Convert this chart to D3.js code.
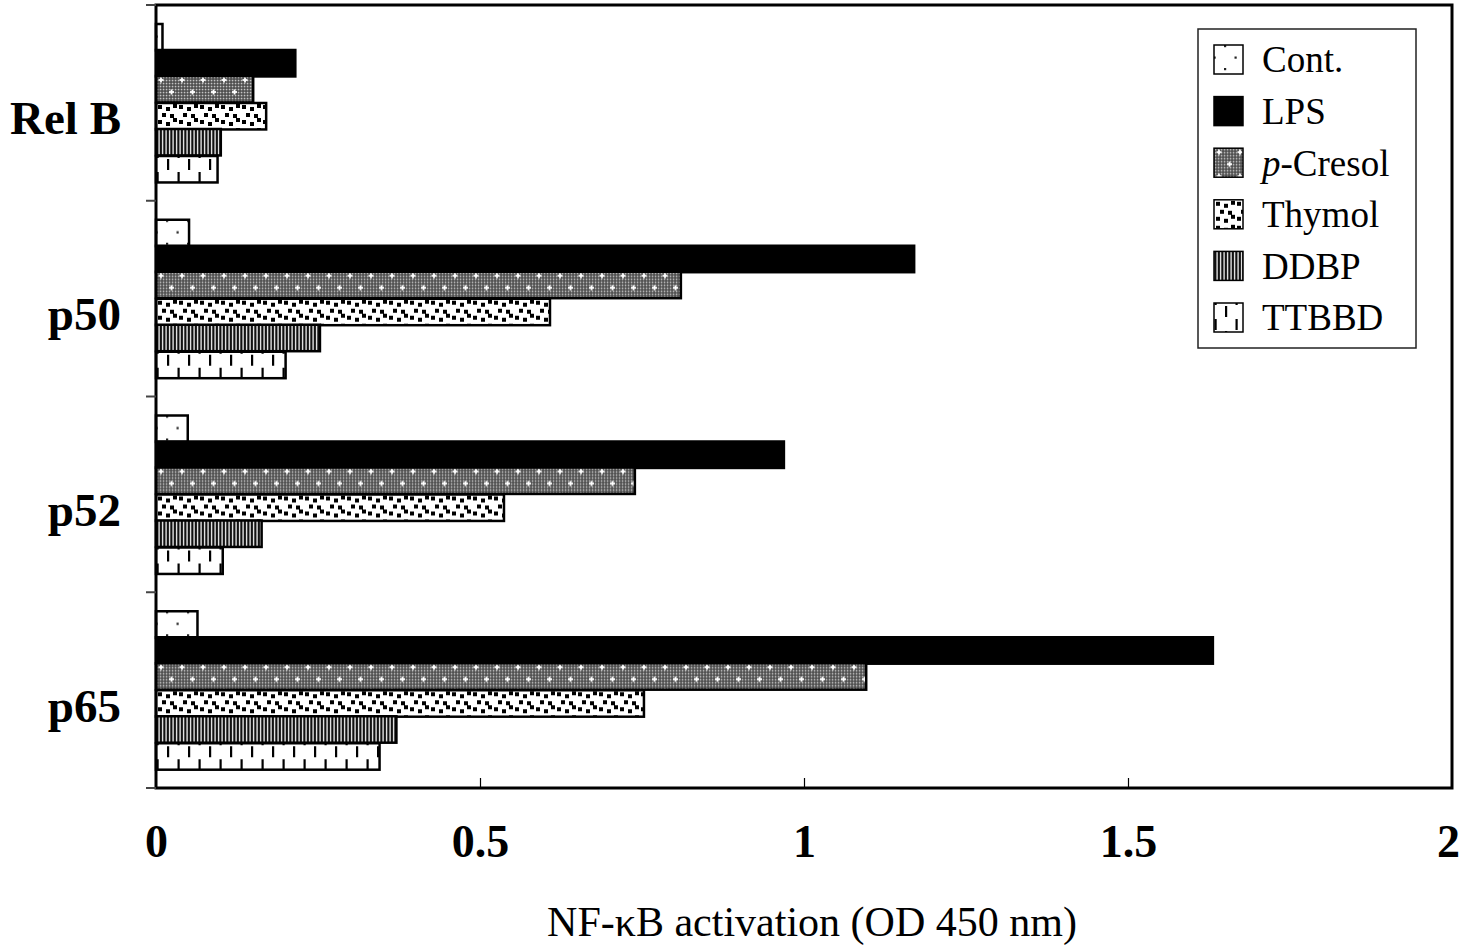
<!DOCTYPE html>
<html>
<head>
<meta charset="utf-8">
<script src="https://cdn.jsdelivr.net/npm/d3@7"></script>
<style>
  html, body { margin: 0; padding: 0; background: #fff; }
  svg { display: block; }
  text { font-family: "Liberation Serif", "Times New Roman", serif; fill: #000; }
</style>
</head>
<body>
<svg id="chart" width="1474" height="947"></svg>
<script>
// ---- data ----
const categories = ["Rel B", "p50", "p52", "p65"];
const seriesNames = ["Cont.", "LPS", "p-Cresol", "Thymol", "DDBP", "TTBBD"];
const contValues    = [0.010, 0.051, 0.049, 0.064];
const lpsValues     = [0.215, 1.170, 0.969, 1.631];
const cresolValues  = [0.150, 0.810, 0.739, 1.096];
const thymolValues  = [0.170, 0.608, 0.537, 0.753];
const ddbpValues    = [0.100, 0.253, 0.163, 0.371];
const ttbbdValues   = [0.095, 0.200, 0.103, 0.345];
const xTickValues = [0, 0.5, 1, 1.5, 2];
const xTickLabels = ["0", "0.5", "1", "1.5", "2"];
const xAxisTitle = "NF-\u03BAB activation (OD 450 nm)";

const seriesValues = [contValues, lpsValues, cresolValues, thymolValues, ddbpValues, ttbbdValues];
const patternIds = ["pCont", "pLPS", "pCresol", "pThymol", "pDDBP", "pTTBBD"];

// ---- layout ----
const plot = { left: 156, right: 1452, top: 5, bottom: 788 };
const svg = d3.select("#chart");

const x = d3.scaleLinear().domain([0, 2]).range([plot.left, plot.right]);
const y0 = d3.scaleBand().domain(categories).range([plot.top, plot.bottom]).padding(0);
const y1 = d3.scaleBand().domain(seriesNames).range([0, y0.bandwidth()]).paddingInner(0).paddingOuter(0.7);

// ---- patterns ----
const defs = svg.append("defs");

// Cont: sparse dots
{
  const p = defs.append("pattern").attr("id", "pCont").attr("patternUnits", "userSpaceOnUse")
    .attr("width", 21).attr("height", 23);
  p.append("rect").attr("width", 21).attr("height", 23).attr("fill", "#fff");
  [[11, 1], [0.5, 12.5], [21.5, 12.5]].forEach(([cx, cy]) =>
    p.append("rect").attr("x", cx - 1).attr("y", cy - 1).attr("width", 2.2).attr("height", 2.2).attr("fill", "#222"));
}
// LPS: solid black
{
  const p = defs.append("pattern").attr("id", "pLPS").attr("patternUnits", "userSpaceOnUse")
    .attr("width", 10).attr("height", 10);
  p.append("rect").attr("width", 10).attr("height", 10).attr("fill", "#000");
}
// p-Cresol: fine dark dither with white crosses
{
  const w = 21, h = 24;
  const p = defs.append("pattern").attr("id", "pCresol").attr("patternUnits", "userSpaceOnUse")
    .attr("width", w).attr("height", h);
  p.append("rect").attr("width", w).attr("height", h).attr("fill", "#444");
  for (let i = 0; i < w / 3; i++) {
    for (let j = 0; j < h / 3; j++) {
      p.append("rect").attr("x", i * 3 + 0.7).attr("y", j * 3 + 0.7)
        .attr("width", 1.7).attr("height", 1.7).attr("fill", "#c4c4c4");
    }
  }
  [[5, 4], [15.5, 16]].forEach(([cx, cy]) => {
    p.append("rect").attr("x", cx - 2.5).attr("y", cy - 0.9).attr("width", 5).attr("height", 1.8).attr("fill", "#fff");
    p.append("rect").attr("x", cx - 0.9).attr("y", cy - 2.5).attr("width", 1.8).attr("height", 5).attr("fill", "#fff");
  });
}
// Thymol: scattered black squares
{
  const w = 21, h = 24;
  const p = defs.append("pattern").attr("id", "pThymol").attr("patternUnits", "userSpaceOnUse")
    .attr("width", w).attr("height", h).attr("shape-rendering", "crispEdges");
  p.append("rect").attr("width", w).attr("height", h).attr("fill", "#fff");
  [[2, 2], [10, 4], [17, 1], [6, 10], [14, 11], [2, 17], [10, 19], [17, 15]]
    .forEach(([sx, sy]) =>
      p.append("rect").attr("x", sx).attr("y", sy).attr("width", 4).attr("height", 4).attr("fill", "#000"));
}
// DDBP: vertical stripes
{
  const p = defs.append("pattern").attr("id", "pDDBP").attr("patternUnits", "userSpaceOnUse")
    .attr("width", 7).attr("height", 10);
  p.append("rect").attr("width", 7).attr("height", 10).attr("fill", "#e0e0e0");
  [0.3, 3.8].forEach(sx =>
    p.append("rect").attr("x", sx).attr("y", 0).attr("width", 2.1).attr("height", 10).attr("fill", "#111"));
}
// TTBBD: staggered vertical dashes
{
  const w = 21, h = 25;
  const p = defs.append("pattern").attr("id", "pTTBBD").attr("patternUnits", "userSpaceOnUse")
    .attr("width", w).attr("height", h);
  p.append("rect").attr("width", w).attr("height", h).attr("fill", "#fff");
  p.append("rect").attr("x", 11).attr("y", 3).attr("width", 2.2).attr("height", 11).attr("fill", "#000");
  p.append("rect").attr("x", 0.5).attr("y", 16).attr("width", 2.2).attr("height", 11).attr("fill", "#000");
  p.append("rect").attr("x", 0.5).attr("y", -9).attr("width", 2.2).attr("height", 11).attr("fill", "#000");
}

// ---- bars ----
const groups = svg.append("g").selectAll("g.cat")
  .data(categories)
  .join("g")
  .attr("class", "cat")
  .attr("transform", d => `translate(0,${y0(d)})`);

groups.each(function (cat, ci) {
  const g = d3.select(this);
  seriesNames.forEach((s, si) => {
    const v = seriesValues[si][ci];
    const bg = g.append("g").attr("transform", `translate(${x(0)},${Math.round(y1(s))})`);
    bg.append("rect")
      .attr("x", 0).attr("y", 0)
      .attr("width", x(v) - x(0))
      .attr("height", y1.bandwidth())
      .attr("fill", `url(#${patternIds[si]})`)
      .attr("stroke", "#000")
      .attr("stroke-width", 2.5);
  });
});

// ---- frame ----
svg.append("rect")
  .attr("x", plot.left).attr("y", plot.top)
  .attr("width", plot.right - plot.left).attr("height", plot.bottom - plot.top)
  .attr("fill", "none").attr("stroke", "#000").attr("stroke-width", 3);

// y ticks at band boundaries (outside, to the left)
const yBoundaries = categories.map(c => y0(c)).concat([plot.bottom]);
svg.append("g").selectAll("line").data(yBoundaries).join("line")
  .attr("x1", plot.left - 10).attr("x2", plot.left)
  .attr("y1", d => d).attr("y2", d => d)
  .attr("stroke", "#444").attr("stroke-width", 2);

// x axis: inner ticks
const xAxis = d3.axisBottom(x).tickValues(xTickValues).tickSize(-10).tickFormat((d, i) => xTickLabels[i]).tickPadding(38);
const xg = svg.append("g").attr("transform", `translate(0,${plot.bottom})`).call(xAxis);
xg.select(".domain").remove();
xg.selectAll(".tick line").attr("stroke", "#000").attr("stroke-width", 1.2)
  .filter(d => d === 0 || d === 2).remove();
xg.selectAll(".tick text")
  .attr("font-family", "Liberation Serif, Times New Roman, serif")
  .attr("font-size", 46).attr("font-weight", "bold").attr("fill", "#000")
  .attr("dy", null).attr("y", 69)
  .attr("dx", d => d === 2 ? -4 : 0);

// category labels
svg.append("g").selectAll("text").data(categories).join("text")
  .attr("x", 121)
  .attr("y", d => y0(d) + y0.bandwidth() / 2 + 15)
  .attr("dy", "0.35em")
  .attr("text-anchor", "end")
  .attr("font-size", 47).attr("font-weight", "bold")
  .text(d => d);

// x axis title
svg.append("text")
  .attr("x", 812).attr("y", 936)
  .attr("text-anchor", "middle")
  .attr("font-size", 42)
  .text(xAxisTitle);

// ---- legend ----
const legend = svg.append("g");
legend.append("rect").attr("x", 1198).attr("y", 29).attr("width", 218).attr("height", 319)
  .attr("fill", "#fff").attr("stroke", "#222").attr("stroke-width", 1.5);
const legendRow = d3.scalePoint().domain(seriesNames).range([59.5, 317.5]);
seriesNames.forEach((s, si) => {
  const cy = legendRow(s);
  const sg = legend.append("g").attr("transform", `translate(1214,${cy - 14.5})`);
  sg.append("rect").attr("width", 29).attr("height", 29)
    .attr("fill", `url(#${patternIds[si]})`).attr("stroke", "#000").attr("stroke-width", 1.5);
  const t = legend.append("text").attr("x", 1262).attr("y", cy).attr("dy", "0.35em").attr("font-size", 37);
  if (s === "p-Cresol") {
    t.append("tspan").attr("font-style", "italic").text("p");
    t.append("tspan").text("-Cresol");
  } else {
    t.text(s);
  }
});
</script>
</body>
</html>
